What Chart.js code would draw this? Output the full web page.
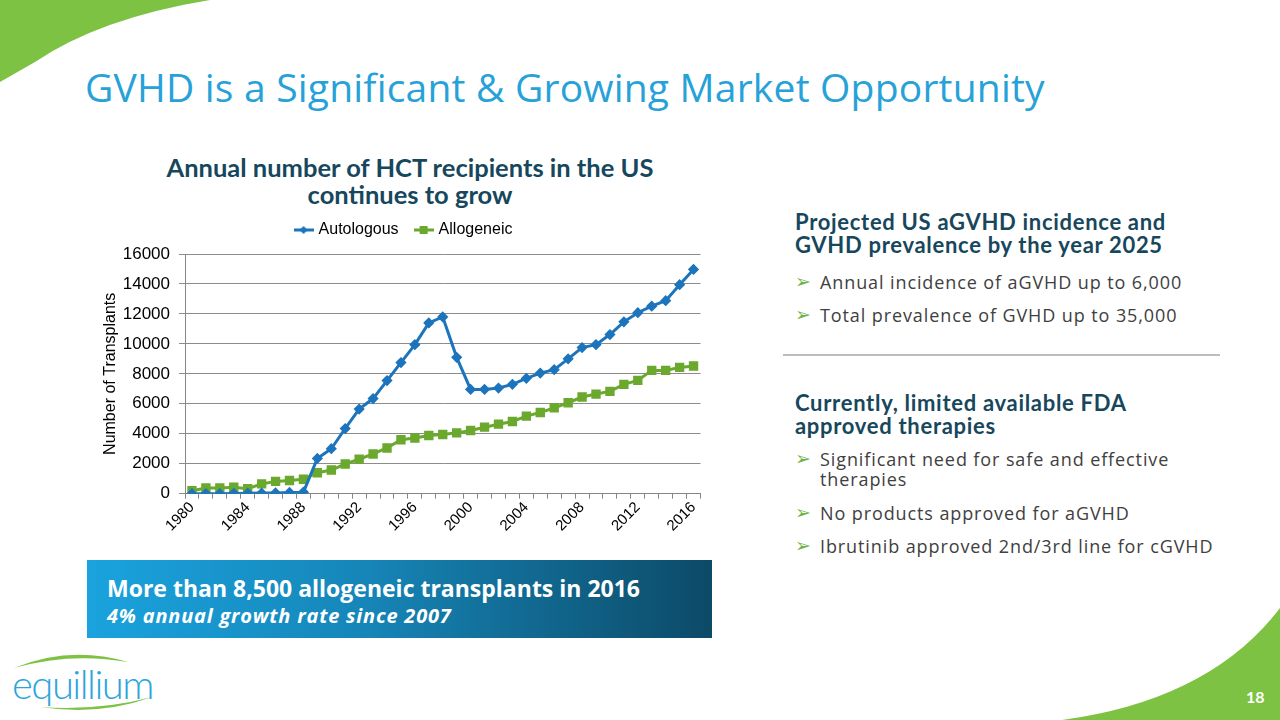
<!DOCTYPE html>
<html>
<head>
<meta charset="utf-8">
<script src="https://cdn.jsdelivr.net/npm/chart.js@4/dist/chart.umd.min.js"></script>
<style>
  html, body { margin: 0; padding: 0; }
  body { width: 1280px; height: 720px; position: relative; overflow: hidden; background: #fff; font-family: "Liberation Sans", Arial, sans-serif; }
  .abs { position: absolute; }
  #title { left: 85px; top: 60px; font-family: "Open Sans", sans-serif; font-size: 39px; color: #27A2D8; letter-spacing: 0.2px; white-space: nowrap; }
  #ctitle { left: 110px; top: 154px; width: 600px; text-align: center; font-family: "Lato", sans-serif; font-weight: 700; font-size: 25.5px; line-height: 27px; color: #17475C; }
  #chartBox { left: 101px; top: 204px; width: 607px; height: 331px; }
  .rhead { font-family: "Lato", sans-serif; font-weight: 700; font-size: 22px; letter-spacing: 0.7px; color: #17475C; line-height: 23px; white-space: nowrap; }
  .bul { font-family: "Open Sans", sans-serif; font-size: 18px; letter-spacing: 0.9px; color: #404040; line-height: 20px; padding-left: 23px; position: absolute; width: 440px; }
  .bul::before { content: "➢"; color: #6DB33F; position: absolute; left: -2px; top: -1px; font-size: 19px; font-family: "DejaVu Sans"; }
  #sep { left: 783px; top: 354px; width: 437px; height: 2px; background: #BDBDBD; }
  #banner { left: 87px; top: 560px; width: 625px; height: 78px; background: linear-gradient(90deg, #1AA3DE 0%, #1685B7 45%, #0C4A67 100%); }
  #b1 { left: 20px; top: 12px; font-family: "Open Sans", sans-serif; font-weight: 700; font-size: 23px; color: #fff; white-space: nowrap; }
  #b2 { left: 20px; top: 42px; font-family: "Open Sans", sans-serif; font-weight: 700; font-style: italic; font-size: 20px; letter-spacing: 0.8px; color: #fff; white-space: nowrap; }
  #pg { left: 1246px; top: 687px; font-family: "Lato", sans-serif; font-weight: 700; font-size: 16px; color: #fff; }
  #logo { left: 12px; top: 664px; font-family: "Lato", sans-serif; font-weight: 300; font-size: 40px; color: #2BA5DC; letter-spacing: -1.5px; line-height: 40px; }
</style>
</head>
<body>
<svg class="abs" style="left:0;top:0" width="1280" height="720">
  <path d="M0,0 L210,0 Q100,18 35,62 L0,82 Z" fill="#7DC243"/>
  <path d="M1062,720 Q1210,700 1280,608 L1280,720 Z" fill="#7DC243"/>
  <path d="M14,668 Q70,645 128,662 Q70,652 14,668 Z" fill="#7DC243"/>
  <path d="M40,707 Q100,716 152,697 Q100,711 40,707 Z" fill="#7DC243"/>
</svg>
<div id="title" class="abs">GVHD is a Significant &amp; Growing Market Opportunity</div>
<div id="ctitle" class="abs"></div>
<div id="chartBox" class="abs"><canvas id="c"></canvas></div>

<div class="abs rhead" style="left:795px;top:210px;">Projected US aGVHD incidence and<br>GVHD prevalence by the year 2025</div>
<div class="bul" style="left:797px;top:272px;">Annual incidence of aGVHD up to 6,000</div>
<div class="bul" style="left:797px;top:305px;">Total prevalence of GVHD up to 35,000</div>
<div id="sep" class="abs"></div>
<div class="abs rhead" style="left:795px;top:391px;">Currently, limited available FDA<br>approved therapies</div>
<div class="bul" style="left:797px;top:449px;width:375px;">Significant need for safe and effective therapies</div>
<div class="bul" style="left:797px;top:503px;">No products approved for aGVHD</div>
<div class="bul" style="left:797px;top:536px;">Ibrutinib approved 2nd/3rd line for cGVHD</div>

<div id="banner" class="abs">
  <div id="b1" class="abs">More than 8,500 allogeneic transplants in 2016</div>
  <div id="b2" class="abs">4% annual growth rate since 2007</div>
</div>
<div id="logo" class="abs">equillium</div>
<div id="pg" class="abs">18</div>

<script>
const years = [1980,1981,1982,1983,1984,1985,1986,1987,1988,1989,1990,1991,1992,1993,1994,1995,1996,1997,1998,1999,2000,2001,2002,2003,2004,2005,2006,2007,2008,2009,2010,2011,2012,2013,2014,2015,2016];
const autologous = [0,0,0,20,30,40,50,80,100,2350,3000,4350,5650,6350,7550,8750,9950,11400,11800,9100,6960,6960,7050,7300,7700,8050,8280,9000,9750,9950,10620,11470,12080,12520,12880,13950,14970];
const allogeneic = [200,380,380,430,330,650,820,880,960,1400,1580,1980,2300,2650,3050,3600,3720,3880,3950,4060,4220,4440,4640,4820,5180,5420,5730,6070,6450,6650,6830,7300,7560,8230,8230,8430,8520];
const yTicks = [0,2000,4000,6000,8000,10000,12000,14000,16000];
const chartTitle = ["Annual number of HCT recipients in the US", "continues to grow"];
const seriesNames = ["Autologous", "Allogeneic"];
const yAxisTitle = "Number of Transplants";

document.getElementById("ctitle").innerHTML = chartTitle.join("<br>");

const blue = "#1C75BC";
const green = "#6AA82E";

function legendIcon(color, shape) {
  const cv = document.createElement("canvas");
  cv.width = 20; cv.height = 10;
  const g = cv.getContext("2d");
  g.strokeStyle = color; g.lineWidth = 3;
  g.beginPath(); g.moveTo(0,5); g.lineTo(20,5); g.stroke();
  g.fillStyle = color;
  if (shape === "diamond") {
    g.beginPath(); g.moveTo(10,1); g.lineTo(14,5); g.lineTo(10,9); g.lineTo(6,5); g.closePath(); g.fill();
  } else {
    g.fillRect(6,1,8,8);
  }
  return cv;
}
const icons = [legendIcon(blue,"diamond"), legendIcon(green,"square")];

const legendGap = {
  id: "legendGap",
  beforeInit(chart) {
    const origFit = chart.legend.fit;
    chart.legend.fit = function () { origFit.call(this); this.height += 6; };
  }
};

new Chart(document.getElementById("c"), {
  type: "line",
  data: {
    labels: years.map(String),
    datasets: [
      { label: seriesNames[0], data: autologous, borderColor: blue, backgroundColor: blue, borderWidth: 3,
        pointStyle: "rectRot", pointRadius: 3.5, pointHoverRadius: 3.5, tension: 0 },
      { label: seriesNames[1], data: allogeneic, borderColor: green, backgroundColor: green, borderWidth: 3,
        pointStyle: "rect", pointRadius: 4.5, pointHoverRadius: 4.5, tension: 0 }
    ]
  },
  plugins: [legendGap],
  options: {
    responsive: true,
    maintainAspectRatio: false,
    animation: false,
    layout: { padding: 0 },
    plugins: {
      tooltip: { enabled: false },
      title: { display: false },
      legend: {
        display: true,
        labels: {
          color: "#000", font: { family: "Liberation Sans", size: 16 },
          usePointStyle: true, pointStyleWidth: 14, boxHeight: 10, padding: 18,
          generateLabels: (chart) => chart.data.datasets.map((d, i) => ({
            text: d.label, pointStyle: icons[i], fillStyle: d.borderColor, strokeStyle: d.borderColor,
            lineWidth: 0, hidden: false, datasetIndex: i, fontColor: "#000"
          }))
        }
      }
    },
    scales: {
      x: {
        type: "category",
        offset: true,
        grid: { display: true, drawOnChartArea: false, drawTicks: true, tickLength: 5, color: "#868686", offset: true },
        border: { display: true, color: "#868686", width: 1 },
        ticks: {
          autoSkip: false, maxRotation: 45, minRotation: 45, color: "#000",
          font: { family: "Liberation Sans", size: 15 }, padding: 0,
          callback: function(v, i) { return (years[i] - 1980) % 4 === 0 ? String(years[i]) : ""; }
        }
      },
      y: {
        min: 0, max: 16000,
        afterBuildTicks: (ax) => { ax.ticks = yTicks.map(v => ({ value: v })); },
        afterFit: (ax) => { ax.width = 84; },
        grid: { color: "#8C8C8C", lineWidth: 1, drawTicks: true, tickLength: 6 },
        border: { display: true, color: "#868686", width: 1 },
        ticks: { color: "#000", font: { family: "Liberation Sans", size: 17 }, padding: 9,
                 callback: (v) => String(v) },
        title: { display: true, text: yAxisTitle, color: "#000", font: { family: "Liberation Sans", size: 16 }, padding: { top: 0, bottom: 0 } }
      }
    }
  }
});
</script>
</body>
</html>
